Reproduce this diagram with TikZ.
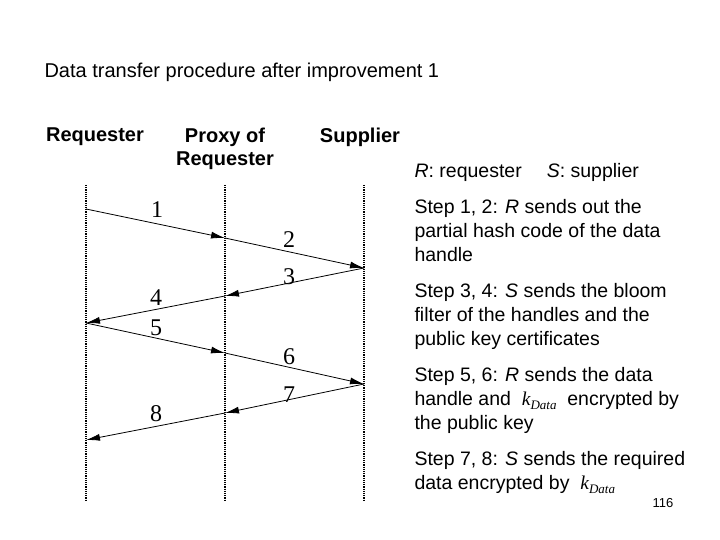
\documentclass[tikz,border=0pt]{standalone}
\usepackage{fontspec}
\setmainfont{Liberation Sans}
\newfontfamily\serifnum{Liberation Serif}
\usetikzlibrary{arrows.meta}
\newcommand{\kdata}{{\serifnum\itshape k}{\serifnum\fontsize{13}{13}\selectfont\raisebox{-4pt}{\itshape Data}}}
\begin{document}
\begin{tikzpicture}[x=1pt,y=-1pt,
  life/.style={densely dotted,line width=1.2pt},
  msg/.style={line width=0.8pt,-{Latex[length=14pt,width=7pt]}},
  num/.style={font=\serifnum\fontsize{24}{24}\selectfont},
  hd/.style={font=\bfseries\fontsize{20}{23}\selectfont,align=center,anchor=north},
  txt/.style={font=\fontsize{19.5}{24}\selectfont,anchor=north west,align=left}]
\useasboundingbox (0,0) rectangle (720,540);
\node[anchor=west,font=\fontsize{20}{22}\selectfont] (title) at (41,72) {Data transfer procedure after improvement 1};
\node[hd] (hR) at (95,124) {Requester};
\node[hd] (hP) at (225,124) {Proxy of\\Requester};
\node[hd] (hS) at (360,124) {Supplier};
\coordinate (lt) at (86,185); \coordinate (lb) at (86,500);
\coordinate (mt) at (225,185); \coordinate (mb) at (225,500);
\coordinate (rt) at (364,185); \coordinate (rb) at (364,500);
\draw[life] (lt) -- (lb); \draw[life] (mt) -- (mb); \draw[life] (rt) -- (rb);
\coordinate (a1) at (86,209); \coordinate (a2) at (225,238); \coordinate (a3) at (364,268);
\coordinate (a4) at (225,296); \coordinate (a5) at (86,323); \coordinate (a6) at (225,353);
\coordinate (a7) at (364,384); \coordinate (a8) at (225,413); \coordinate (a9) at (86,440);
\draw[msg] (a1) -- (a2); \draw[msg] (a2) -- (a3); \draw[msg] (a3) -- (a4); \draw[msg] (a4) -- (a5);
\draw[msg] (a5) -- (a6); \draw[msg] (a6) -- (a7); \draw[msg] (a7) -- (a8); \draw[msg] (a8) -- (a9);
\node[num] (n1) at (157,210) {1}; \node[num] (n2) at (289,240) {2};
\node[num] (n3) at (289,277) {3}; \node[num] (n4) at (156,298) {4};
\node[num] (n5) at (156,328) {5}; \node[num] (n6) at (289,357) {6};
\node[num] (n7) at (289,395) {7}; \node[num] (n8) at (156,414) {8};
\node[txt] (t0) at (411,160) {\textit{R}: requester\quad\ \textit{S}: supplier};
\node[txt] (t1) at (411,196) {Step 1, 2: \textit{R} sends out the\\partial hash code of the data\\handle};
\node[txt] (t2) at (411,280) {Step 3, 4: \textit{S} sends the bloom\\filter of the handles and the\\public key certificates};
\node[txt] (t3) at (411,364) {Step 5, 6: \textit{R} sends the data\\handle and \ \kdata\ \ encrypted by\\the public key};
\node[txt] (t4) at (411,448) {Step 7, 8: \textit{S} sends the required\\data encrypted by \ \kdata};
\node[font=\fontsize{13}{15}\selectfont] (pg) at (663,503) {116};
\end{tikzpicture}
\end{document}
